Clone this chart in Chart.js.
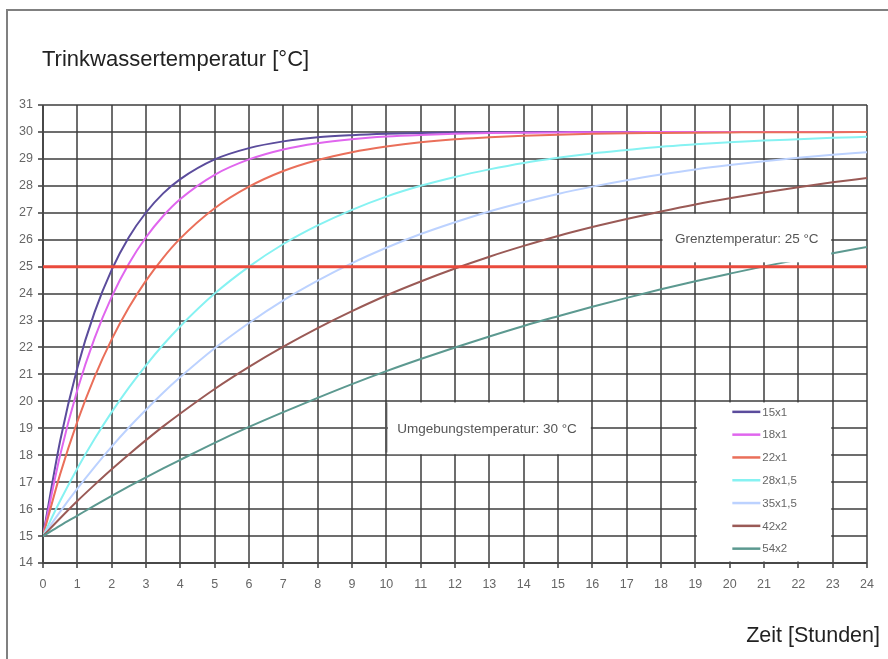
<!DOCTYPE html>
<html><head><meta charset="utf-8">
<script src="https://cdn.jsdelivr.net/npm/chart.js@4/dist/chart.umd.min.js"></script>
<style>html,body{margin:0;padding:0;background:#fff}</style>
</head><body>
<canvas id="c" width="888" height="659"></canvas>
<script>
// ---- data ----
const hours   = [0,0.5,1,1.5,2,2.5,3,3.5,4,5,6,7,8,9,10,11,12,13,14,15,16,17,18,19,20,21,22,23,24];
const names   = ['15x1','18x1','22x1','28x1,5','35x1,5','42x2','54x2'];
const s15x1   = [15,18.54,21.24,23.30,24.88,26.09,27.01,27.72,28.25,28.98,29.40,29.65,29.80,29.88,29.93,29.96,29.98,29.99,29.99,30,30,30,30,30,30,30,30,30,30];
const s18x1   = [15,18.01,20.42,22.34,23.88,25.11,26.09,26.88,27.51,28.41,28.98,29.35,29.58,29.73,29.83,29.89,29.93,29.96,29.97,29.98,29.99,29.99,30,30,30,30,30,30,30];
const s22x1   = [15,17.30,19.25,20.90,22.30,23.48,24.48,25.33,26.05,27.17,27.97,28.55,28.96,29.25,29.46,29.62,29.73,29.80,29.86,29.90,29.93,29.95,29.96,29.97,29.98,29.99,29.99,29.99,30];
const s28x15  = [15,16.31,17.51,18.60,19.60,20.51,21.34,22.10,22.79,24.00,25.00,25.84,26.53,27.11,27.60,28.00,28.33,28.61,28.85,29.04,29.20,29.33,29.45,29.54,29.62,29.68,29.73,29.78,29.82];
const s35x15  = [15,15.91,16.76,17.56,18.32,19.03,19.69,20.32,20.90,21.97,22.91,23.75,24.48,25.13,25.70,26.21,26.65,27.05,27.39,27.70,27.97,28.21,28.42,28.61,28.77,28.91,29.04,29.15,29.25];
const s42x2   = [15,15.66,16.30,16.90,17.48,18.03,18.56,19.07,19.55,20.46,21.28,22.03,22.72,23.35,23.93,24.45,24.93,25.37,25.77,26.14,26.47,26.77,27.05,27.31,27.54,27.75,27.95,28.13,28.29];
const s54x2   = [15,15.39,15.76,16.13,16.49,16.84,17.18,17.51,17.83,18.46,19.05,19.60,20.13,20.64,21.12,21.57,22.00,22.41,22.80,23.16,23.51,23.84,24.16,24.46,24.74,25.01,25.26,25.50,25.73];
const limitTemp   = 25;   // Grenztemperatur
const ambientTemp = 30;   // Umgebungstemperatur
const xTickMin = 0, xTickMax = 24;
const yTickMin = 14, yTickMax = 31;

const series = [s15x1, s18x1, s22x1, s28x15, s35x15, s42x2, s54x2];
const colors = ['#5b4c9c','#e066ee','#ea6f5a','#86f2f2','#bcd2ff','#9a5a56','#5c9990'];

const datasets = series.map((s, i) => ({
  label: names[i],
  data: s.map((v, j) => ({x: hours[j], y: v})),
  borderColor: colors[i],
  borderWidth: 2,
  pointRadius: 0,
  fill: false,
  cubicInterpolationMode: 'monotone',
  order: 7 - i
}));
datasets.push({
  label: 'Grenz',
  data: [{x: xTickMin, y: limitTemp}, {x: xTickMax, y: limitTemp}],
  borderColor: '#ea4a3c',
  borderWidth: 3,
  pointRadius: 0,
  fill: false,
  order: 0
});

const FONT = '"Liberation Sans", Arial, sans-serif';

const deco = {
  id: 'deco',
  beforeDraw(chart) {
    const ctx = chart.ctx;
    ctx.save();
    ctx.fillStyle = '#fff';
    ctx.fillRect(0, 0, chart.width, chart.height);
    ctx.restore();
  },
  afterDatasetsDraw(chart) {
    const ctx = chart.ctx, xs = chart.scales.x, ys = chart.scales.y;
    const X = v => xs.getPixelForValue(v), Y = v => ys.getPixelForValue(v);
    ctx.save();
    // Grenztemperatur box
    ctx.fillStyle = '#fff';
    ctx.fillRect(X(18) + 1.5, Y(26.96), X(23) - X(18) - 3, Y(25.16) - Y(26.96));
    ctx.fillStyle = '#555';
    ctx.font = '13.5px ' + FONT;
    ctx.textAlign = 'center';
    ctx.textBaseline = 'middle';
    ctx.fillText('Grenztemperatur: ' + limitTemp + ' °C', (X(18) + X(23)) / 2, (Y(25.16) + Y(26.96)) / 2 + 1);
    // Umgebungstemperatur box
    ctx.fillStyle = '#fff';
    ctx.fillRect(X(10) + 1.5, Y(19.96), X(16) - X(10) - 3, Y(18.04) - Y(19.96));
    ctx.strokeStyle = '#555';
    ctx.lineWidth = 2;
    ctx.beginPath(); ctx.moveTo(X(10), Y(19.96)); ctx.lineTo(X(10), Y(18.1)); ctx.stroke();
    ctx.fillStyle = '#555';
    ctx.textAlign = 'left';
    ctx.fillText('Umgebungstemperatur: ' + ambientTemp + ' °C', X(10) + 11, Y(19) + 1);
    // legend box
    ctx.fillStyle = '#fff';
    ctx.fillRect(X(19) + 1.5, Y(19.96), X(23) - X(19) - 3, Y(14) - Y(19.96) - 1.5);
    const top = Y(20);
    const lx = X(19);
    ctx.font = '11.5px ' + FONT;
    ctx.textBaseline = 'middle';
    names.forEach((n, i) => {
      const yy = top + 10.5 + i * 22.8;
      ctx.strokeStyle = colors[i];
      ctx.lineWidth = 2.5;
      ctx.beginPath(); ctx.moveTo(lx + 37, yy); ctx.lineTo(lx + 65, yy); ctx.stroke();
      ctx.fillStyle = '#666';
      ctx.fillText(n, lx + 67, yy + 0.5);
    });
    // titles
    ctx.fillStyle = '#222';
    ctx.font = '22px ' + FONT;
    ctx.textAlign = 'left';
    ctx.textBaseline = 'alphabetic';
    ctx.fillText('Trinkwassertemperatur [°C]', 42, 66);
    ctx.font = '21.5px ' + FONT;
    ctx.textAlign = 'right';
    ctx.fillText('Zeit [Stunden]', 880, 642);
    // frame
    ctx.strokeStyle = '#808080';
    ctx.lineWidth = 2;
    ctx.beginPath();
    ctx.moveTo(888, 10); ctx.lineTo(7, 10); ctx.lineTo(7, 659);
    ctx.stroke();
    ctx.restore();
  }
};

const gridStyle = {
  color: 'rgba(60,60,60,0.75)',
  lineWidth: 2,
  tickLength: 5,
  tickColor: 'rgba(60,60,60,0.75)'
};

new Chart(document.getElementById('c'), {
  type: 'line',
  data: { datasets },
  options: {
    responsive: false,
    animation: false,
    devicePixelRatio: 1,
    layout: { padding: { top: 105, right: 21, left: 0, bottom: 0 } },
    plugins: { legend: { display: false }, tooltip: { enabled: false } },
    scales: {
      x: {
        type: 'linear', min: xTickMin, max: xTickMax,
        ticks: { stepSize: 1, color: '#666', font: { size: 12.5, family: FONT }, padding: 9, maxRotation: 0 },
        grid: gridStyle,
        border: { color: 'rgba(60,60,60,0.75)', width: 2 },
        afterFit(s) { s.height = 96; }
      },
      y: {
        type: 'linear', min: yTickMin, max: yTickMax,
        ticks: { stepSize: 1, color: '#666', font: { size: 12.5, family: FONT }, padding: 5 },
        grid: gridStyle,
        border: { color: 'rgba(60,60,60,0.75)', width: 2 },
        afterFit(s) { s.width = 43; }
      }
    }
  },
  plugins: [deco]
});
</script>
</body></html>
